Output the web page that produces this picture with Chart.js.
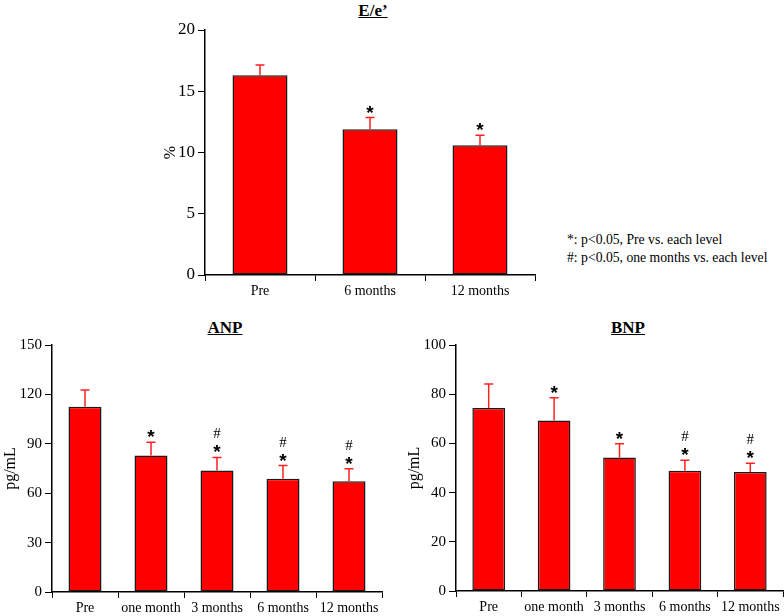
<!DOCTYPE html>
<html>
<head>
<meta charset="utf-8">
<script src="https://cdn.jsdelivr.net/npm/chart.js@4"></script>
<style>
    body { margin: 0; background: #fff; font-family: "Liberation Serif", "Times New Roman", serif; }
    #page { position: relative; width: 784px; height: 616px; overflow: hidden; }
    canvas { position: absolute; }
    .title { position: absolute; font-weight: bold; font-size: 17px; text-decoration: underline; transform: translate(-50%, -50%); white-space: nowrap; }
    .note { position: absolute; font-size: 13.7px; white-space: nowrap; transform: translateY(-50%); }
</style>
</head>
<body>
<div id="page">
    <div class="title" style="left:373px;top:11px">E/e’</div>
    <div class="title" style="left:225px;top:328px">ANP</div>
    <div class="title" style="left:628px;top:328px">BNP</div>
    <div class="note" style="left:567px;top:240px">*: p&lt;0.05, Pre vs. each level</div>
    <div class="note" style="left:567px;top:258px">#: p&lt;0.05, one months vs. each level</div>
    <canvas id="ee" width="400" height="305" style="left:140px;top:0px"></canvas>
    <canvas id="anp" width="392" height="306" style="left:0px;top:310px"></canvas>
    <canvas id="bnp" width="392" height="306" style="left:392px;top:310px"></canvas>
</div>
<script>
// E/e'
const eeLabels = ['Pre', '6 months', '12 months'];
const eeMeans = [16.3, 11.9, 10.6];
const eeErrors = [0.85, 0.95, 0.8];
const eeStars = [0, 1, 1];
const eeHashes = [0, 0, 0];
const eeTicks = [0, 5, 10, 15, 20];

// ANP / BNP
const monthLabels = ['Pre', 'one month', '3 months', '6 months', '12 months'];
const anpMeans = [112.5, 82.9, 73.8, 68.8, 67.2];
const anpErrors = [10.1, 8.0, 7.9, 8.0, 7.6];
const anpStars = [0, 1, 1, 1, 1];
const anpHashes = [0, 0, 1, 1, 1];
const anpTicks = [0, 30, 60, 90, 120, 150];

const bnpMeans = [74.4, 69.3, 54.3, 48.9, 48.4];
const bnpErrors = [9.7, 9.3, 5.6, 4.3, 3.5];
const bnpStars = [0, 1, 1, 1, 1];
const bnpHashes = [0, 0, 0, 1, 1];
const bnpTicks = [0, 20, 40, 60, 80, 100];

// draws upper error bars + significance marks
const errorBars = {
    id: 'errorBars',
    afterDatasetsDraw(chart, args, opts) {
        const ctx = chart.ctx;
        const y = chart.scales.y;
        const values = chart.data.datasets[0].data;
        chart.getDatasetMeta(0).data.forEach((bar, i) => {
            const top = y.getPixelForValue(values[i] + opts.errors[i]);
            ctx.save();
            ctx.strokeStyle = '#ff2020';
            ctx.lineWidth = 1.5;
            ctx.beginPath();
            ctx.moveTo(bar.x, bar.y);
            ctx.lineTo(bar.x, top);
            ctx.moveTo(bar.x - 4.5, top);
            ctx.lineTo(bar.x + 4.5, top);
            ctx.stroke();
            ctx.fillStyle = '#000';
            ctx.textAlign = 'center';
            ctx.textBaseline = 'alphabetic';
            if (opts.stars[i]) {
                ctx.font = 'bold 19px "Liberation Sans"';
                ctx.fillText('*', bar.x, top + 1);
            }
            if (opts.hashes[i]) {
                ctx.font = '15px "Liberation Serif"';
                ctx.fillText('#', bar.x, top - 19);
            }
            ctx.restore();
        });
    }
};

const buildChart = (id, labels, means, errors, stars, hashes, yTicks, yTitle, lay) => {
    return new Chart(document.getElementById(id), {
        type: 'bar',
        data: {
            labels: labels,
            datasets: [{
                data: means,
                backgroundColor: '#ff0000',
                borderColor: '#1a1a1a',
                borderWidth: 1.5,
                borderSkipped: false,
                barPercentage: 0.5,
                categoryPercentage: 1.0
            }]
        },
        options: {
            responsive: false,
            animation: false,
            layout: {
                padding: {top: lay.padTop, right: lay.padRight, left: 0, bottom: 0}
            },
            plugins: {
                legend: {display: false},
                tooltip: {enabled: false},
                errorBars: {errors: errors, stars: stars, hashes: hashes}
            },
            scales: {
                x: {
                    grid: {drawOnChartArea: false, offset: true, tickLength: 6, color: '#000'},
                    border: {color: '#000', width: 1.5},
                    ticks: {
                        color: '#000',
                        font: {family: 'Liberation Serif', size: 14},
                        padding: 2,
                        maxRotation: 0,
                        autoSkip: false
                    },
                    afterFit: s => { s.height = lay.xHeight }
                },
                y: {
                    min: 0,
                    max: yTicks[yTicks.length - 1],
                    afterBuildTicks: s => { s.ticks = yTicks.map(v => ({value: v})) },
                    grid: {drawOnChartArea: false, tickLength: 7, color: '#000'},
                    border: {color: '#000', width: 1.5},
                    ticks: {
                        color: '#000',
                        font: {family: 'Liberation Serif', size: lay.yFont},
                        padding: 3
                    },
                    title: {
                        display: true,
                        text: yTitle,
                        color: '#000',
                        font: {family: 'Liberation Serif', size: 16},
                        padding: {top: lay.titlePad, bottom: 0}
                    },
                    afterFit: s => { s.width = lay.yWidth }
                }
            }
        },
        plugins: [errorBars]
    });
}

buildChart('ee', eeLabels, eeMeans, eeErrors, eeStars, eeHashes, eeTicks, '%',
    {padTop: 30, padRight: 5, xHeight: 30, yWidth: 65, yFont: 17, titlePad: 21});
buildChart('anp', monthLabels, anpMeans, anpErrors, anpStars, anpHashes, anpTicks, 'pg/mL',
    {padTop: 35, padRight: 10, xHeight: 24, yWidth: 52, yFont: 15, titlePad: 1});
buildChart('bnp', monthLabels, bnpMeans, bnpErrors, bnpStars, bnpHashes, bnpTicks, 'pg/mL',
    {padTop: 35, padRight: 1, xHeight: 25, yWidth: 64, yFont: 15, titlePad: 13});
</script>
</body>
</html>
